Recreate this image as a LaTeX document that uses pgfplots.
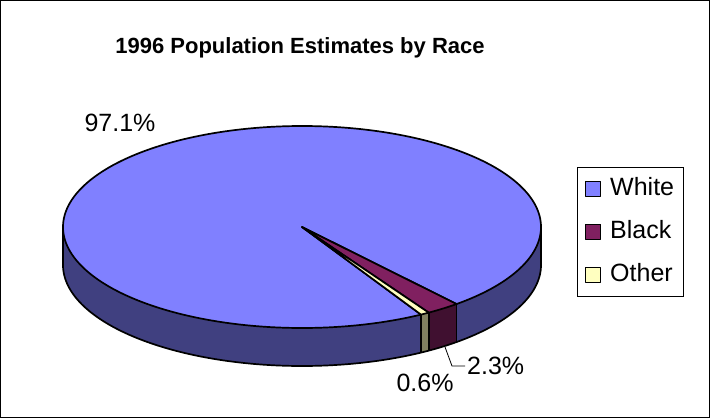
\documentclass[border=0pt]{standalone}
\usepackage{pgfplots}
\pgfplotsset{compat=1.18}
\usepackage{pgfplotstable}
\usepgfplotslibrary{fillbetween}
\usepackage{fontspec}
\setmainfont{Liberation Sans}
\definecolor{wTop}{HTML}{8080FF}
\definecolor{wSide}{HTML}{404080}
\definecolor{bTop}{HTML}{802060}
\definecolor{bSide}{HTML}{401030}
\definecolor{oTop}{HTML}{FFFFC0}
\definecolor{oSide}{HTML}{808060}
\pgfplotstableread{
race value
White 97.1
Black 2.3
Other 0.6
}\racedata
\pgfplotstablegetelem{0}{value}\of\racedata \edef\vW{\pgfplotsretval}
\pgfplotstablegetelem{1}{value}\of\racedata \edef\vB{\pgfplotsretval}
\pgfplotstablegetelem{2}{value}\of\racedata \edef\vO{\pgfplotsretval}
\def\cx{302}\def\cy{191}\def\rx{239}\def\ry{101}\def\dz{38}
\pgfmathsetmacro{\aA}{-49.7}
\pgfmathsetmacro{\aB}{\aA-3.6*\vB}
\pgfmathsetmacro{\aC}{\aB-3.6*\vO}
\pgfmathsetmacro{\aD}{\aC-3.6*\vW}
\begin{document}%
\begin{tikzpicture}
\begin{axis}[
  x=1bp, y=1bp,
  xmin=0, xmax=710, ymin=0, ymax=418,
  hide axis, ticks=none, clip=false,
  every axis plot/.append style={line join=round},
  legend style={at={(axis cs:577,251)}, anchor=north west, draw=black,
    line width=0.8bp, fill=white,
    font=\fontsize{25bp}{29bp}\selectfont,
    inner xsep=8bp, inner ysep=9bp, row sep=18bp,
    nodes={inner sep=1bp, text height=18bp, text depth=5bp},
    /tikz/every odd column/.append style={column sep=8bp}},
  legend cell align=left,
  legend image code/.code={\draw[#1, line width=0.8bp] (0bp,-7.5bp) rectangle (15bp,7.5bp);},
]
\coordinate (bbSW) at (axis cs:0,0);
\coordinate (bbNE) at (axis cs:710,418);
% --- side of the pie (front half) ---
\addplot[forget plot, draw=none, name path=wA, domain=-180:0, samples=181, variable=\t] ({\cx+\rx*cos(\t)}, {\cy+\ry*sin(\t)});
\addplot[forget plot, draw=none, name path=wB, domain=-180:0, samples=181, variable=\t] ({\cx+\rx*cos(\t)}, {\cy-\dz+\ry*sin(\t)});
\addplot[forget plot, fill=wSide, draw=none] fill between[of=wA and wB];
\addplot[forget plot, draw=none, name path=bA, domain=\aB:\aA, samples=20, variable=\t] ({\cx+\rx*cos(\t)}, {\cy+\ry*sin(\t)});
\addplot[forget plot, draw=none, name path=bB, domain=\aB:\aA, samples=20, variable=\t] ({\cx+\rx*cos(\t)}, {\cy-\dz+\ry*sin(\t)});
\addplot[forget plot, fill=bSide, draw=none] fill between[of=bA and bB];
\addplot[forget plot, draw=none, name path=oA, domain=\aC:\aB, samples=10, variable=\t] ({\cx+\rx*cos(\t)}, {\cy+\ry*sin(\t)});
\addplot[forget plot, draw=none, name path=oB, domain=\aC:\aB, samples=10, variable=\t] ({\cx+\rx*cos(\t)}, {\cy-\dz+\ry*sin(\t)});
\addplot[forget plot, fill=oSide, draw=none] fill between[of=oA and oB];
% outlines of the side
\addplot[forget plot, black, line width=1.7bp, domain=-180:0, samples=181, variable=\t] ({\cx+\rx*cos(\t)}, {\cy-\dz+\ry*sin(\t)});
\foreach \ang in {-180,0,\aA,\aB,\aC}{
  \addplot[forget plot, black, line width=1.7bp, domain=0:1, samples=2, variable=\s] ({\cx+\rx*cos(\ang)}, {\cy+\ry*sin(\ang)-\dz*\s});
}
% --- top faces ---
\addplot[forget plot, fill=wTop, draw=black, line width=1.7bp, domain=\aD:\aC, samples=360, variable=\t] ({\cx+\rx*cos(\t)}, {\cy+\ry*sin(\t)}) -- (axis cs:\cx,\cy) -- cycle;
\addplot[forget plot, fill=bTop, draw=black, line width=1.7bp, domain=\aB:\aA, samples=20, variable=\t] ({\cx+\rx*cos(\t)}, {\cy+\ry*sin(\t)}) -- (axis cs:\cx,\cy) -- cycle;
\addplot[forget plot, fill=oTop, draw=black, line width=1.7bp, domain=\aC:\aB, samples=10, variable=\t] ({\cx+\rx*cos(\t)}, {\cy+\ry*sin(\t)}) -- (axis cs:\cx,\cy) -- cycle;
% --- legend ---
\addlegendimage{fill=wTop, draw=black}\addlegendentry{White}
\addlegendimage{fill=bTop, draw=black}\addlegendentry{Black}
\addlegendimage{fill=oTop, draw=black}\addlegendentry{Other}
% --- texts ---
\node[font=\bfseries\fontsize{22bp}{26bp}\selectfont] at (axis cs:300,370) {1996 Population Estimates by Race};
\node[font=\fontsize{25bp}{29bp}\selectfont] at (axis cs:120,295) {97.1\%};
\node[font=\fontsize{25bp}{29bp}\selectfont, anchor=west, inner sep=1bp] at (axis cs:466,52) {2.3\%};
\node[font=\fontsize{25bp}{29bp}\selectfont] at (axis cs:425,35) {0.6\%};
\draw[line width=0.8bp] (axis cs:445,71) -- (axis cs:452,52) -- (axis cs:465,52);
\draw[line width=1bp] (axis cs:0.5,0.5) rectangle (axis cs:709.5,417.5);
\end{axis}
\pgfresetboundingbox
\path[use as bounding box] (bbSW) rectangle (bbNE);
\end{tikzpicture}%
\end{document}
